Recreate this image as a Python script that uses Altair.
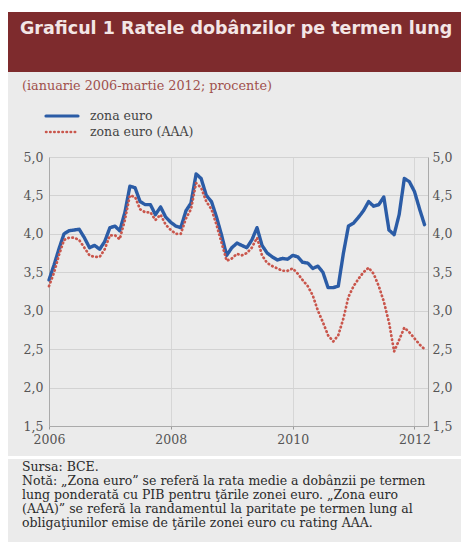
import altair as alt
import pandas as pd

# Monthly long-term interest rates, January 2006 - March 2012 (percent)
months = pd.date_range("2006-01-01", "2012-03-01", freq="MS")

zona_euro = [
    3.40, 3.60, 3.80, 4.00, 4.04, 4.05, 4.06, 3.95, 3.82, 3.85, 3.80, 3.90,
    4.08, 4.10, 4.04, 4.28, 4.62, 4.60, 4.42, 4.38, 4.38, 4.25, 4.35, 4.22,
    4.15, 4.10, 4.08, 4.30, 4.40, 4.78, 4.72, 4.50, 4.42, 4.22, 3.98, 3.72,
    3.82, 3.88, 3.85, 3.82, 3.92, 4.08, 3.85, 3.75, 3.70, 3.66, 3.68, 3.67,
    3.72, 3.70, 3.63, 3.62, 3.55, 3.58, 3.50, 3.30, 3.30, 3.32, 3.75, 4.10,
    4.14, 4.22, 4.30, 4.42, 4.36, 4.38, 4.48, 4.05, 3.99, 4.25, 4.72, 4.68,
    4.55, 4.32, 4.12,
]

zona_euro_aaa = [
    3.32, 3.50, 3.72, 3.92, 3.95, 3.95, 3.92, 3.82, 3.72, 3.70, 3.70, 3.80,
    3.98, 3.98, 3.93, 4.18, 4.50, 4.48, 4.32, 4.28, 4.28, 4.18, 4.25, 4.12,
    4.05, 4.00, 4.00, 4.20, 4.32, 4.66, 4.60, 4.42, 4.32, 4.12, 3.88, 3.65,
    3.68, 3.74, 3.72, 3.75, 3.82, 3.95, 3.72, 3.62, 3.58, 3.55, 3.52, 3.52,
    3.55, 3.48, 3.40, 3.32, 3.20, 3.00, 2.85, 2.68, 2.60, 2.68, 2.90, 3.18,
    3.32, 3.42, 3.50, 3.56, 3.48, 3.32, 3.12, 2.85, 2.47, 2.62, 2.78, 2.72,
    2.64, 2.56, 2.50,
]

series = ["zona euro", "zona euro (AAA)"]
y_ticks = [1.5, 2.0, 2.5, 3.0, 3.5, 4.0, 4.5, 5.0]
x_years = [2006, 2008, 2010, 2012]

title = "Graficul 1 Ratele dobânzilor pe termen lung"
subtitle = "(ianuarie 2006-martie 2012; procente)"
note_lines = [
    "Sursa: BCE.",
    "Notă: „Zona euro” se referă la rata medie a dobânzii pe termen",
    "lung ponderată cu PIB pentru ţările zonei euro. „Zona euro",
    "(AAA)” se referă la randamentul la paritate pe termen lung al",
    "obligaţiunilor emise de ţările zonei euro cu rating AAA.",
]

BLUE = "#2b5ca6"
RED = "#c9564c"
BANNER = "#7e2b2d"
PANEL = "#ebebeb"
SERIF = "DejaVu Serif"
SANS_BOLD = "DejaVu Sans"

df = pd.concat([
    pd.DataFrame({"luna": months, "rata": zona_euro, "serie": series[0]}),
    pd.DataFrame({"luna": months, "rata": zona_euro_aaa, "serie": series[1]}),
])

W, H = 379, 269
PAD_L, PAD_T = 49, 157

x_scale = alt.Scale(domain=[alt.DateTime(year=2006, month=1, date=1),
                            alt.DateTime(year=2012, month=3, date=22)])
y_scale = alt.Scale(domain=[1.5, 5.0], nice=False, zero=False)
comma_fmt = "replace(format(datum.value, '.1f'), '.', ',')"

x_axis = alt.Axis(
    values=[alt.DateTime(year=y, month=1, date=1) for y in x_years],
    format="%Y", title=None, grid=True, gridColor="#d6d6d6",
    tickSize=3, tickColor="#999999", domainColor="#aaaaaa",
    labelFont=SERIF, labelFontSize=12.5, labelColor="#555555", labelPadding=4,
    labelFlush=False,
)
y_left = alt.Axis(
    values=y_ticks, labelExpr=comma_fmt, title=None, grid=True,
    gridColor="#d2d2d2", ticks=False, domainColor="#aaaaaa",
    labelFont=SERIF, labelFontSize=12.5, labelColor="#555555", labelPadding=6,
)
y_right = alt.Axis(
    values=y_ticks, labelExpr=comma_fmt, title=None, grid=False, orient="right",
    ticks=False, domainColor="#aaaaaa",
    labelFont=SERIF, labelFontSize=12.5, labelColor="#555555", labelPadding=4,
)

lines = alt.Chart(df).mark_line(strokeCap="round", strokeJoin="round").encode(
    x=alt.X("luna:T", scale=x_scale, axis=x_axis),
    y=alt.Y("rata:Q", scale=y_scale, axis=y_left),
    color=alt.Color("serie:N", scale=alt.Scale(domain=series, range=[BLUE, RED]), legend=None),
    strokeDash=alt.StrokeDash("serie:N", scale=alt.Scale(domain=series, range=[[1, 0], [0.5, 3.6]]), legend=None),
    strokeWidth=alt.StrokeWidth("serie:N", scale=alt.Scale(domain=series, range=[3.4, 2.7]), legend=None),
    order=alt.Order("luna:T"),
)

right_axis = alt.Chart(df).mark_line(opacity=0).encode(
    x=alt.X("luna:T", scale=x_scale, axis=x_axis),
    y=alt.Y("rata:Q", scale=y_scale, axis=y_right),
    detail="serie:N",
)

one = pd.DataFrame({"k": [0]})


def rect(x0, x1, y0, y1, color):
    return alt.Chart(one).mark_rect(color=color).encode(
        x=alt.value(x0 - PAD_L), x2=alt.value(x1 - PAD_L),
        y=alt.value(y0 - PAD_T), y2=alt.value(y1 - PAD_T),
    )


def label(txt, x, y, size, color, font=SERIF, weight="normal"):
    return alt.Chart(one).mark_text(
        align="left", baseline="alphabetic", font=font, fontSize=size,
        fontWeight=weight, color=color,
    ).encode(x=alt.value(x - PAD_L), y=alt.value(y - PAD_T), text=alt.value(txt))


def key_line(y, color, dash, width):
    return alt.Chart(one).mark_rule(color=color, strokeDash=dash, strokeWidth=width,
                                    strokeCap="round").encode(
        x=alt.value(46 - PAD_L), x2=alt.value(78 - PAD_L), y=alt.value(y - PAD_T),
    )


frame = [
    rect(0, 461, 0, 12, "white"),
    rect(0, 8, 0, 542, "white"),
    rect(8, 461, 456, 459, "white"),
    rect(8, 461, 12, 72, BANNER),
    label(title, 20, 34, 17.5, "#f3e6e6", font=SANS_BOLD, weight="bold"),
    label(subtitle, 22, 90, 12.8, "#a0504c"),
    key_line(116, BLUE, [1, 0], 3.2),
    key_line(132, RED, [0.5, 3.6], 2.5),
    label(series[0], 90, 120, 12.5, "#444444"),
    label(series[1], 90, 136, 12.5, "#444444"),
]
notes = [label(t, 22, 471 + 14 * i, 12.5, "#2a2a2a") for i, t in enumerate(note_lines)]

chart = alt.layer(*frame, *notes, lines, right_axis).properties(
    width=W, height=H,
    padding={"left": PAD_L, "top": PAD_T, "right": 461 - PAD_L - W, "bottom": 542 - PAD_T - H},
    autosize=alt.AutoSizeParams(type="none"),
    background=PANEL,
).resolve_axis(y="independent").configure_view(stroke=None)

chart.save("out.html", embed_options={"renderer": "svg", "actions": False})
